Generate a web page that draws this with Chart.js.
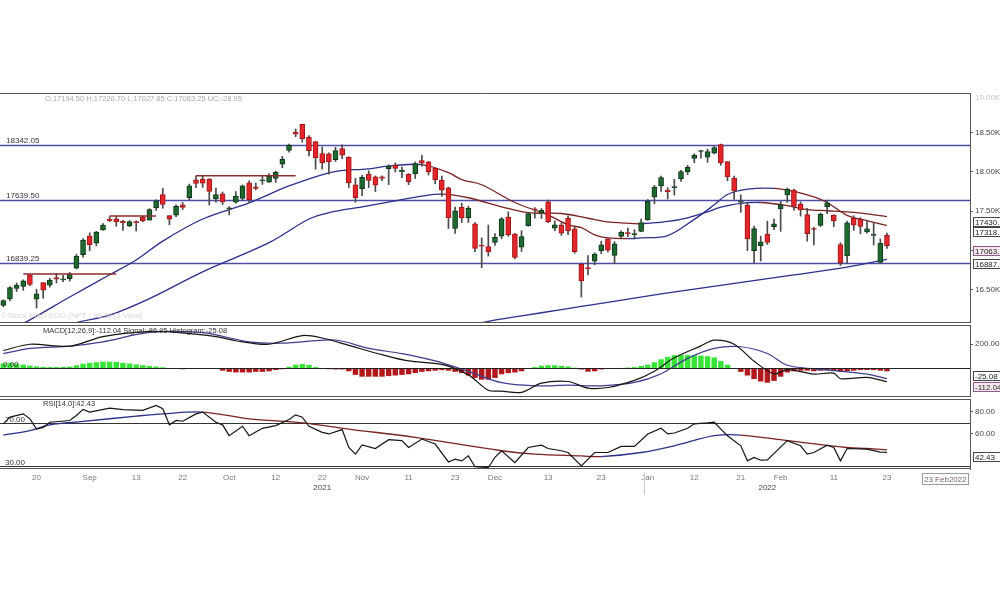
<!DOCTYPE html>
<html>
<head>
<meta charset="utf-8">
<script src="https://cdn.jsdelivr.net/npm/chart.js@4.4.1/dist/chart.umd.min.js"></script>
<style>
  html, body { margin: 0; padding: 0; background: #fff; }
  body { width: 1000px; height: 600px; position: relative; overflow: hidden; }
  .pane { position: absolute; left: 0; width: 1000px; }
  #pMain { top: 93px; height: 230px; }
  #pMacd { top: 325px; height: 72px; }
  #pRsi  { top: 399px; height: 99px; }
</style>
</head>
<body>
<div class="pane" id="pMain"><canvas id="cMain" width="1000" height="230"></canvas></div>
<div class="pane" id="pMacd"><canvas id="cMacd" width="1000" height="72"></canvas></div>
<div class="pane" id="pRsi"><canvas id="cRsi" width="1000" height="99"></canvas></div>
<script>
// trading days, Aug 2021 .. Feb 2022
const dates = [
  '08-12','08-13','08-16','08-17','08-18','08-20','08-23','08-24','08-25','08-26','08-27','08-30','08-31',
  '09-01','09-02','09-03','09-06','09-07','09-08','09-09','09-13','09-14','09-15','09-16','09-17','09-20','09-21','09-22','09-23','09-24','09-27','09-28','09-29','09-30',
  '10-01','10-04','10-05','10-06','10-07','10-08','10-11','10-12','10-13','10-14','10-18','10-19','10-20','10-21','10-22','10-25','10-26','10-27','10-28','10-29',
  '11-01','11-02','11-03','11-04','11-08','11-09','11-10','11-11','11-12','11-15','11-16','11-17','11-18','11-22','11-23','11-24','11-25','11-26','11-29','11-30',
  '12-01','12-02','12-03','12-06','12-07','12-08','12-09','12-10','12-13','12-14','12-15','12-16','12-17','12-20','12-21','12-22','12-23','12-24','12-27','12-28','12-29','12-30','12-31',
  '01-03','01-04','01-05','01-06','01-07','01-10','01-11','01-12','01-13','01-14','01-17','01-18','01-19','01-20','01-21','01-24','01-25','01-27','01-28','01-31',
  '02-01','02-02','02-03','02-04','02-07','02-08','02-09','02-10','02-11','02-14','02-15','02-16','02-17','02-18','02-21','02-22','02-23'
];
const padSlots = 12;

const opens = [
  16303,16385,16518,16545,16691,16382,16592,16561,16656,16627,16643,16775,16947,
  17185,17095,17262,17400,17401,17375,17312,17363,17420,17387,17540,17709,17443,17450,17580,17670,17897,17907,17906,17658,17719,
  17531,17615,17661,17861,17810,17886,17867,17915,18097,18272,18500,18602,18439,18382,18230,18229,18154,18295,18187,17833,
  17784,17970,17935,17935,18040,18085,18000,17967,17977,18141,18127,18044,17890,17796,17282,17550,17417,17339,17055,17051,
  17104,17183,17424,17210,17044,17315,17524,17476,17619,17283,17323,17409,17277,16825,16773,16865,16998,17150,16938,17178,17221,17201,17244,
  17388,17681,17820,17768,17798,17913,17997,18170,18257,18185,18235,18344,18130,17921,17613,17575,16997,17063,17208,17302,
  17529,17706,17767,17591,17456,17280,17320,17555,17451,17077,16933,17408,17397,17236,17192,16848,17194.5
];
const highs = [
  16375,16543,16589,16628,16702,16509,16592,16647,16712,16684,16722,16951,17153,
  17225,17245,17341,17430,17437,17384,17380,17378,17439,17532,17645,17792,17443,17579,17610,17844,17948,17943,17913,17792,17743,
  17557,17750,17833,17884,17857,17941,17978,18009,18197,18350,18543,18604,18459,18384,18315,18242,18310,18342,18190,17916,
  17954,18012,17947,17947,18087,18113,18061,17977,18124,18210,18132,18053,17946,17806,17553,17601,17564,17356,17160,17324,
  17214,17420,17490,17217,17252,17484,17544,17535,17639,17376,17351,17440,17298,16841,16936,16971,17119,17156,17112,17250,17286,17265,17400,
  17647,17828,17944,17797,17905,18017,18081,18227,18272,18286,18321,18350,18130,17944,17707,17600,17310,17182,17374,17399,
  17622,17794,17781,17617,17536,17295,17477,17640,17454,17099,17375,17442,17416,17382,17352,17148,17220.7
];
const lows = [
  16286,16361,16480,16495,16554,16270,16395,16535,16589,16604,16611,16765,16915,
  16999,17059,17255,17367,17308,17255,17302,17248,17368,17386,17510,17537,17327,17430,17521,17646,17799,17802,17577,17614,17585,
  17452,17600,17640,17613,17771,17840,17865,17864,18051,18248,18445,18377,18200,18033,18034,17968,18131,18167,17800,17613,
  17697,17800,17748,17886,17836,17998,17925,17836,17915,18071,17959,17847,17688,17280,17216,17355,17355,16986,16782,16931,
  17065,17150,17181,16892,16988,17308,17412,17406,17355,17250,17192,17200,16966,16410,16689,16819,16959,16983,16834,17161,17176,17146,17238,
  17384,17593,17750,17655,17704,17879,17964,18116,18174,18119,18228,18084,17885,17648,17485,16998,16837,16867,17077,17264,
  17244,17611,17511,17437,17119,17071,17306,17467,17303,16810,16839,17255,17211,17219,17070,16844,17027.85
];
const closes = [
  16364,16529,16563,16615,16569,16451,16496,16625,16635,16637,16705,16931,17132,
  17076,17234,17324,17378,17362,17354,17369,17355,17380,17519,17630,17585,17397,17562,17547,17823,17853,17855,17749,17711,17618,
  17532,17691,17822,17646,17790,17895,17946,17992,18162,18339,18477,18419,18267,18178,18115,18125,18268,18211,17857,17672,
  17930,17889,17829,17917,18069,18044,18017,17874,18103,18109,17999,17899,17765,17417,17503,17415,17536,17026,17054,16983,
  17167,17402,17197,16912,17177,17470,17517,17511,17368,17325,17221,17248,16985,16614,16771,16955,17073,17004,17086,17233,17214,17204,17354,
  17626,17805,17925,17746,17813,18003,18056,18212,18258,18256,18308,18113,17938,17757,17617,17149,17278,17110,17102,17340,
  17577,17780,17560,17516,17214,17267,17464,17606,17375,16843,17352,17322,17305,17276,17207,17092.2,17063.25
];

// horizontal levels and short resistance marks
const levels = [18342.05, 17639.50, 16839.25];
const resistFrom = ['08-17', '09-06', '09-24'];
const resistTo = ['09-07', '09-16', '10-18'];
const resistValue = [16702, 17437, 17948];

// moving averages: [day index, value]
const ma20 = [[2,16040],[4,16120],[10,16410],[16,16692],[20,16880],[24,17120],[30,17400],[37,17606],[43,17820],[49,17987],[52,18025],[54,18030],[59,18080],[63,18090],[67,17990],[69,17900],[72,17835],[77,17610],[82,17450],[85,17327],[87,17290],[89,17200],[91,17160],[94,17150],[96,17160],[100,17190],[104,17396],[107,17580],[109,17711],[112,17779],[116,17790],[119,17750],[122,17680],[124,17610],[127,17447],[130,17380],[133,17318.5]];
const ma50 = [[8,15990],[11,16085],[16,16180],[22,16390],[30,16730],[40,17100],[46,17400],[49,17480],[54,17555],[59,17630],[63,17690],[66,17715],[70,17670],[75,17555],[79,17480],[84,17470],[88,17410],[91,17365],[93,17352],[96,17340],[100,17370],[103,17416],[106,17492],[108,17550],[111,17600],[114,17610],[118,17570],[121,17520],[124,17505],[127,17490],[130,17465],[133,17430.6]];
const ma200 = [[69,16030],[73,16100],[78,16170],[84,16250],[90,16330],[99,16450],[109,16570],[119,16690],[127,16790],[133,16887.7]];

// MACD pane
const macdHist = [
  40,45,38,30,22,16,12,10,10,12,
  14,25,38,45,50,55,55,52,45,40,
  32,26,20,14,8,3,-6,-8,-5,-2,
  1,2,-1,-20,-30,-35,-35,-35,-30,-30,
  -25,-15,-8,12,30,35,28,10,2,-8,
  -10,-10,-25,-55,-70,-70,-70,-70,-65,-60,
  -55,-50,-40,-30,-25,-20,-15,-20,-30,-40,
  -60,-80,-95,-95,-80,-50,-40,-35,-25,-3,
  10,22,25,25,20,15,5,-10,-28,-25,
  -10,-3,2,3,6,10,20,30,50,75,
  95,110,112,110,108,105,100,90,60,30,
  -5,-30,-60,-90,-110,-120,-105,-70,-35,-25,
  -20,-20,-25,-20,-15,-20,-30,-25,-20,-15,
  -15,-15,-20,-25.08
];
const macdLine = [[0,148],[4,200],[10,183],[15,264],[22,307],[26,298],[32,264],[35,229],[40,200],[45,272],[48,252],[52,191],[57,113],[61,61],[66,32],[70,-55],[73,-183],[75,-190],[78,-200],[81,-124],[85,-110],[88,-165],[91,-160],[95,-101],[98,-25],[101,87],[105,186],[107,234],[110,200],[113,59],[116,-48],[118,-11],[122,-48],[125,-40],[126,-87],[130,-76],[133,-112.04]];
const macdSignal = [[0,122],[4,165],[10,185],[15,220],[22,298],[30,296],[37,220],[42,209],[50,235],[55,165],[60,122],[65,61],[70,-26],[75,-120],[80,-146],[85,-141],[90,-146],[95,-118],[99,-45],[103,82],[107,165],[111,179],[115,123],[118,25],[122,-5],[125,-19],[130,-48],[133,-86.95]];

// RSI pane
const rsiLine = [[0,68.8],[1,75],[3,78],[4,73.4],[5,64],[6,65.6],[7,70.3],[10,71.9],[11,76.5],[12,82.1],[13,79.6],[16,83.3],[18,82],[21,81.2],[23,85.8],[24,82.7],[25,67.9],[26,71.9],[27,71.2],[29,78],[30,79.6],[32,70.3],[33,67.9],[34,57.9],[36,66.6],[37,57.9],[39,64.7],[41,67.2],[43,72.8],[44,77.1],[45,74.9],[46,66.6],[48,61],[49,59.5],[51,63.5],[52,47],[53,40.9],[54,49.3],[56,46.1],[58,54.2],[60,53.3],[61,47],[63,54.8],[65,50.2],[67,33.7],[68,36.2],[69,34.7],[70,39.3],[71,29.3],[73,28.4],[74,38],[75,44],[77,33.1],[79,47],[81,49.2],[82,46.1],[84,44],[85,42.4],[87,30],[89,42.4],[91,42.4],[93,48],[95,48],[97,59.5],[99,64.7],[100,59.5],[101,60.4],[103,64.7],[104,68.8],[106,69.7],[107,70.3],[108,64],[109,57.9],[111,48.6],[112,34.7],[113,37.8],[114,35.3],[115,35.6],[118,53.3],[120,48.6],[121,40.9],[122,42.4],[124,49.2],[125,47],[126,34.7],[127,46.1],[130,45.5],[132,42.8],[133,42.43]];
const rsiAvg = [[0,58.5],[4,62.6],[7,67.9],[12,71],[20,75.9],[24,78],[30,79.6],[37,73.4],[45,69.7],[52,64],[62,56.3],[75,44],[80,40.9],[87,39.3],[90,38.6],[96,42.4],[101,48.6],[107,57.9],[111,58.5],[118,53.3],[127,47],[130,46.1],[133,44.9]];
const rsiBands = [70, 30];

// axis labels
const priceTicks = [16500, 17000, 17500, 18000, 18500];
const macdTicks = [200];
const rsiTicks = [60, 80];
const tickDates = ['08-20','09-01','09-13','09-22','10-01','10-12','10-22','11-01','11-11','11-23','12-01','12-13','12-23','01-03','01-12','01-21','02-01','02-11','02-23'];
const tickText  = ['20','Sep','13','22','Oct','12','22','Nov','11','23','Dec','13','23','Jan','12','21','Feb','11','23'];
const yearDates = ['10-22', '01-28'];
const yearText = ['2021', '2022'];
const lastDateText = '23 Feb2022';

// ---------- styles ----------
const FONT = '8px "Liberation Sans", Arial, sans-serif';
const HEAD_FONT = '7.5px "Liberation Sans", Arial, sans-serif';
const UP_COL = '#2c2f8c';
const DN_COL = '#7a2222';
const LEVEL_COL = '#4c4ca6';
const EDGE = '#555';
Chart.defaults.font.family = '"Liberation Sans", Arial, sans-serif';
Chart.defaults.font.size = 8;
Chart.defaults.color = '#444';

const labels = dates.concat(Array(padSlots).fill(''));
const pts = arr => arr.map(([i, v]) => ({ x: dates[i], y: v }));
const slopeColor = ctx => ctx.p1.parsed.y >= ctx.p0.parsed.y ? UP_COL : DN_COL;
const last = arr => arr[arr.length - 1];
const isUp = closes.map((c, i) => c >= opens[i]);

function xAxis(show) {
  return {
    type: 'category', offset: true, display: show,
    grid: { display: false, drawTicks: false }, border: { display: false },
    afterFit: s => { if (show) s.height = 29; s.paddingLeft = 0; s.paddingRight = 0; },
    ticks: {
      autoSkip: false, maxRotation: 0, padding: 4, color: '#777',
      callback(v) { const k = tickDates.indexOf(this.getLabelForValue(v)); return k >= 0 ? tickText[k] : ''; }
    }
  };
}
function yAxis(min, max, list, fmt) {
  return {
    position: 'right', min, max,
    afterFit: s => { s.width = 30; s.paddingTop = 0; s.paddingBottom = 0; },
    afterBuildTicks: s => { s.ticks = list.map(v => ({ value: v })); },
    grid: { display: true, drawOnChartArea: false, drawTicks: true, tickLength: 3, color: EDGE },
    border: { display: true, color: EDGE },
    ticks: { padding: 2, color: '#444', callback: fmt }
  };
}
function paneEdge(ctx, a) {
  ctx.strokeStyle = EDGE; ctx.lineWidth = 1;
  ctx.beginPath();
  ctx.moveTo(a.left, a.top + 0.5); ctx.lineTo(a.right + 0.5, a.top + 0.5);
  ctx.lineTo(a.right + 0.5, a.bottom - 0.5); ctx.lineTo(a.left, a.bottom - 0.5);
  ctx.stroke();
}
function hLine(ctx, a, py, color, width) {
  ctx.strokeStyle = color; ctx.lineWidth = width;
  ctx.beginPath(); ctx.moveTo(a.left, py); ctx.lineTo(a.right, py); ctx.stroke();
}
function valueBoxes(chart, items) {
  const { ctx, chartArea: a, scales: { y } } = chart;
  let floor = -Infinity;
  ctx.font = FONT; ctx.textBaseline = 'middle'; ctx.textAlign = 'left';
  items.forEach(b => {
    const top = Math.max(Math.round(y.getPixelForValue(b.value)), floor);
    ctx.fillStyle = b.fill; ctx.fillRect(a.right + 3, top, 40, 10);
    ctx.strokeStyle = b.stroke; ctx.lineWidth = 1; ctx.strokeRect(a.right + 3.5, top + 0.5, 40, 9);
    ctx.fillStyle = '#222'; ctx.fillText(b.text, a.right + 5, top + 5.5);
    floor = top + 10;
  });
}
const common = {
  responsive: false, animation: false, events: [],
  layout: { padding: 0 },
  plugins: { legend: { display: false }, tooltip: { enabled: false } }
};

// ---------- price pane ----------
const mainDecor = {
  id: 'mainDecor',
  beforeDatasetsDraw(chart) {
    const { ctx, chartArea: a, scales: { y } } = chart;
    ctx.save();
    ctx.font = FONT; ctx.textBaseline = 'alphabetic'; ctx.textAlign = 'left';
    levels.forEach(v => {
      const py = Math.round(y.getPixelForValue(v)) + 0.5;
      hLine(ctx, a, py, LEVEL_COL, 1.5);
      ctx.fillStyle = '#333';
      ctx.fillText(v.toFixed(2), a.left + 6, py - 2.5);
    });
    ctx.restore();
  },
  afterDraw(chart) {
    const { ctx, chartArea: a } = chart;
    const n = closes.length - 1;
    ctx.save();
    paneEdge(ctx, a);
    ctx.font = HEAD_FONT; ctx.textAlign = 'left'; ctx.textBaseline = 'top';
    ctx.fillStyle = '#a8a8a8';
    ctx.fillText('O:' + opens[n].toFixed(2) + ' H:' + highs[n].toFixed(2) + ' L:' + lows[n].toFixed(2) +
      ' C:' + closes[n].toFixed(2) + ' UC:' + (closes[n] - closes[n - 1]).toFixed(2), a.left + 45, a.top + 2);
    ctx.font = FONT;
    ctx.fillStyle = '#c4c4c4';
    ctx.fillText('19.00K', a.right + 5, a.top + 1);
    ctx.fillStyle = '#d6d6d6'; ctx.textBaseline = 'alphabetic';
    ctx.fillText('©Stock Pixel EOD (NFT / 98.5) (3 View)', a.left + 1, a.bottom - 5);
    valueBoxes(chart, [
      { value: last(ma50)[1], text: last(ma50)[1].toFixed(2), fill: '#fff', stroke: '#444' },
      { value: last(ma20)[1], text: last(ma20)[1].toFixed(2), fill: '#fff', stroke: '#444' },
      { value: closes[n], text: closes[n].toFixed(2), fill: '#f6e9f3', stroke: '#8a5c86' },
      { value: last(ma200)[1], text: last(ma200)[1].toFixed(2), fill: '#fff', stroke: '#444' }
    ]);
    ctx.restore();
  }
};

const resistSets = resistValue.map((v, k) => ({
  type: 'line', data: [{ x: resistFrom[k], y: v }, { x: resistTo[k], y: v }],
  borderColor: '#8c2e2e', borderWidth: 1.5, pointRadius: 0, order: 2
}));
const maSet = (arr, order) => ({
  type: 'line', data: pts(arr), borderWidth: 1.3, pointRadius: 0, tension: 0.35,
  borderColor: UP_COL, segment: { borderColor: slopeColor }, order
});

new Chart(document.getElementById('cMain'), {
  type: 'bar',
  data: {
    labels,
    datasets: [
      { type: 'bar', data: lows.map((l, i) => [l, highs[i]]), backgroundColor: '#4a4a4a',
        barThickness: 1, grouped: false, order: 4 },
      { type: 'bar', data: opens.map((o, i) => [Math.min(o, closes[i]), Math.max(o, closes[i])]),
        backgroundColor: isUp.map(u => u ? '#1f6a30' : '#e2262b'),
        borderColor: isUp.map(u => u ? '#0c3415' : '#a31616'),
        borderWidth: 1, borderSkipped: false, barThickness: 5, minBarLength: 1, grouped: false, order: 3 },
      maSet(ma20, 5), maSet(ma50, 5), maSet(ma200, 5),
      ...resistSets
    ]
  },
  options: {
    ...common,
    scales: {
      x: xAxis(false),
      y: yAxis(16080, 19000, priceTicks, v => (v / 1000).toFixed(2) + 'K')
    }
  },
  plugins: [mainDecor]
});

// ---------- MACD pane ----------
const macdDecor = {
  id: 'macdDecor',
  afterDatasetsDraw(chart) {
    const { ctx, chartArea: a, scales: { y } } = chart;
    ctx.save();
    const py = Math.round(y.getPixelForValue(0)) + 0.5;
    hLine(ctx, a, py, '#222', 1);
    ctx.font = FONT; ctx.textAlign = 'left'; ctx.textBaseline = 'alphabetic';
    ctx.fillStyle = '#333';
    ctx.fillText('0.00', a.left + 3, py - 1.5);
    ctx.font = HEAD_FONT; ctx.textBaseline = 'top';
    ctx.fillText('MACD[12,26,9]:' + last(macdLine)[1].toFixed(2) + ' Signal:' + last(macdSignal)[1].toFixed(2) +
      ' Histogram:' + last(macdHist).toFixed(2), a.left + 43, a.top + 2);
    ctx.restore();
  },
  afterDraw(chart) {
    const { ctx, chartArea: a } = chart;
    ctx.save();
    paneEdge(ctx, a);
    valueBoxes(chart, [
      { value: last(macdHist), text: last(macdHist).toFixed(2), fill: '#fff', stroke: '#444' },
      { value: last(macdLine)[1], text: last(macdLine)[1].toFixed(2), fill: '#f6e9f3', stroke: '#8a5c86' }
    ]);
    ctx.restore();
  }
};

new Chart(document.getElementById('cMacd'), {
  type: 'bar',
  data: {
    labels,
    datasets: [
      { type: 'bar', data: macdHist, backgroundColor: macdHist.map(v => v >= 0 ? '#36e336' : '#b3191c'),
        barPercentage: 0.82, categoryPercentage: 1, order: 3 },
      { type: 'line', data: pts(macdLine), borderColor: '#141414', borderWidth: 1.2, pointRadius: 0, tension: 0.3, order: 1 },
      { type: 'line', data: pts(macdSignal), borderColor: '#3b3d8e', borderWidth: 1.2, pointRadius: 0, tension: 0.3, order: 2 }
    ]
  },
  options: {
    ...common,
    scales: {
      x: xAxis(false),
      y: yAxis(-239, 360, macdTicks, v => v.toFixed(2))
    }
  },
  plugins: [macdDecor]
});

// ---------- RSI pane + date axis ----------
const rsiDecor = {
  id: 'rsiDecor',
  beforeDatasetsDraw(chart) {
    const { ctx, chartArea: a, scales: { y } } = chart;
    ctx.save();
    ctx.font = FONT; ctx.textAlign = 'left'; ctx.textBaseline = 'alphabetic';
    rsiBands.forEach(v => {
      const py = Math.round(y.getPixelForValue(v)) + 0.5;
      hLine(ctx, a, py, '#333', 1);
      ctx.fillStyle = '#333';
      ctx.fillText(v.toFixed(2), a.left + 5, py - 1.5);
    });
    ctx.restore();
  },
  afterDraw(chart) {
    const { ctx, chartArea: a, scales: { x } } = chart;
    ctx.save();
    paneEdge(ctx, a);
    ctx.font = HEAD_FONT; ctx.textAlign = 'left'; ctx.textBaseline = 'top'; ctx.fillStyle = '#333';
    ctx.fillText('RSI[14,0]:' + last(rsiLine)[1].toFixed(2), a.left + 43, a.top + 1);
    valueBoxes(chart, [{ value: last(rsiLine)[1], text: last(rsiLine)[1].toFixed(2), fill: '#fff', stroke: '#444' }]);
    // year row
    ctx.font = FONT;
    ctx.textAlign = 'center'; ctx.textBaseline = 'middle'; ctx.fillStyle = '#444';
    yearDates.forEach((d, k) => ctx.fillText(yearText[k], x.getPixelForValue(dates.indexOf(d)), a.bottom + 19));
    const jan = dates.indexOf('01-03');
    const sx = Math.round((x.getPixelForValue(jan - 1) + x.getPixelForValue(jan)) / 2) + 0.5;
    ctx.strokeStyle = '#c8c8c8'; ctx.lineWidth = 1;
    ctx.beginPath(); ctx.moveTo(sx, a.bottom + 3); ctx.lineTo(sx, a.bottom + 26); ctx.stroke();
    // current date box
    ctx.fillStyle = '#fff'; ctx.fillRect(a.right - 48, a.bottom + 4, 46, 11);
    ctx.strokeStyle = '#9a9a9a'; ctx.strokeRect(a.right - 47.5, a.bottom + 4.5, 46, 11);
    ctx.fillStyle = '#7a5c78'; ctx.textAlign = 'left';
    ctx.fillText(lastDateText, a.right - 46, a.bottom + 10.5);
    ctx.restore();
  }
};

new Chart(document.getElementById('cRsi'), {
  type: 'line',
  data: {
    labels,
    datasets: [
      { data: pts(rsiLine), borderColor: '#141414', borderWidth: 1.2, pointRadius: 0, tension: 0, order: 1 },
      { data: pts(rsiAvg), borderWidth: 1.3, pointRadius: 0, tension: 0.35,
        borderColor: UP_COL, segment: { borderColor: slopeColor }, order: 2 }
    ]
  },
  options: {
    ...common,
    scales: {
      x: xAxis(true),
      y: yAxis(27.2, 91.7, rsiTicks, v => v.toFixed(2))
    }
  },
  plugins: [rsiDecor]
});
</script>
</body>
</html>
